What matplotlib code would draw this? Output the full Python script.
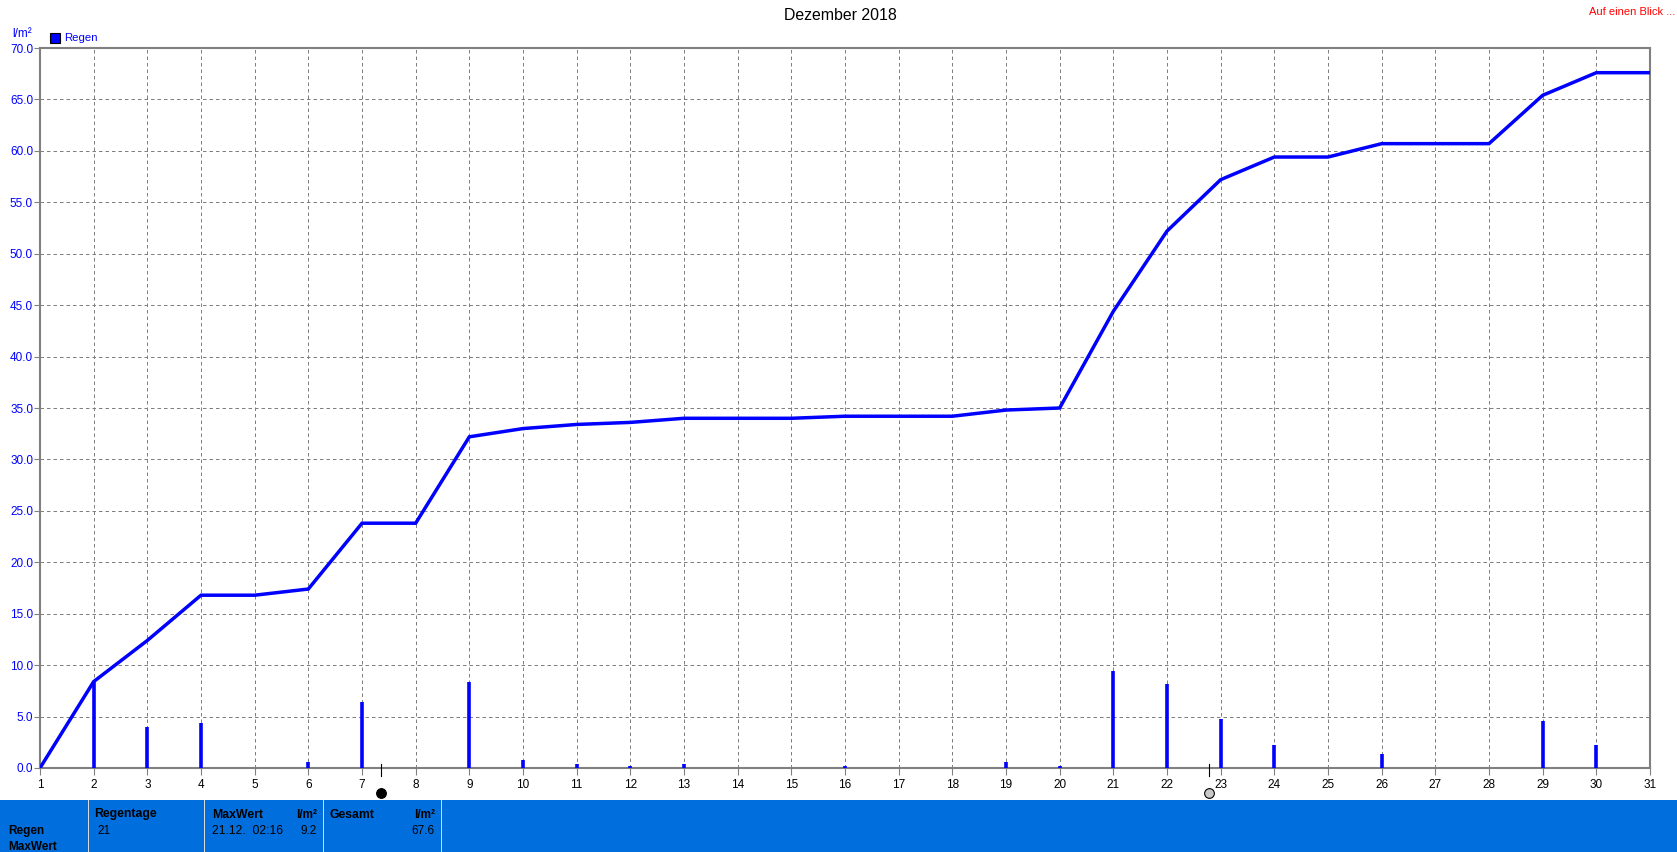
import matplotlib
matplotlib.use("Agg")
import matplotlib.pyplot as plt
from matplotlib.patches import Rectangle
from matplotlib.transforms import blended_transform_factory

plt.rcParams['font.family'] = ['Liberation Sans', 'DejaVu Sans']

days = list(range(1, 32))
cumulative = [0, 8.4, 12.4, 16.8, 16.8, 17.4, 23.8, 23.8, 32.2, 33.0, 33.4, 33.6, 34.0, 34.0, 34.0, 34.2,
              34.2, 34.2, 34.8, 35.0, 44.4, 52.2, 57.2, 59.4, 59.4, 60.7, 60.7, 60.7, 65.4, 67.6, 67.6]
daily = [0, 8.4, 4.0, 4.4, 0, 0.6, 6.4, 0, 8.4, 0.8, 0.4, 0.2, 0.4, 0, 0, 0.2,
         0, 0, 0.6, 0.2, 9.4, 8.2, 4.8, 2.2, 0, 1.4, 0, 0, 4.6, 2.2, 0]
y_ticks = [i * 5 for i in range(15)]
full_moon_day, new_moon_day = 7.35, 22.78
title = "Dezember 2018"

W, H = 1677, 852
BLUE = "#0000FF"
GREY = "#808080"
PANEL = "#006FDD"

fig = plt.figure(figsize=(W / 100, H / 100), dpi=100, facecolor="white")
ax = fig.add_axes([40 / W, 1 - 768 / H, (1650 - 40) / W, (768 - 48) / H])
ax.set_xlim(1, 31)
ax.set_ylim(0, 70)
ax.set_xticks(days)
ax.set_yticks(y_ticks)
ax.set_yticklabels([f"{v:.1f}" for v in y_ticks], color=BLUE, fontsize=8.5)
ax.set_xticklabels([str(d) for d in days], fontsize=8.5)
ax.tick_params(axis="x", length=5, width=0.8, color=GREY, pad=3)
ax.tick_params(axis="y", length=4, width=0.8, color=GREY, pad=1)
ax.grid(True, color=GREY, lw=0.72, linestyle=(0, (3.5, 3)))
ax.set_axisbelow(True)
for s in ax.spines.values():
    s.set_color(GREY)
    s.set_linewidth(1.5)

ax.vlines(days, 0, daily, color=BLUE, lw=2.6, zorder=3)
ax.plot(days, cumulative, color=BLUE, lw=2.5, zorder=4, solid_joinstyle="miter", clip_on=True)

# Moon phase markers below the axis
tr = blended_transform_factory(ax.transData, fig.transFigure)
for d, face in ((full_moon_day, "black"), (new_moon_day, "#c8c8c8")):
    ax.plot([d, d], [1 - 764 / H, 1 - 776 / H], color="black", lw=0.8, transform=tr, clip_on=False, zorder=6)
    ax.plot([d], [1 - 793 / H], marker="o", ms=7.0, mfc=face, mec="black", mew=0.8,
            transform=tr, clip_on=False, zorder=6)


def px(x, y, s, **kw):
    fig.text(x / W, 1 - y / H, s, **{"va": "center", "fontsize": 8.5, **kw})


px(840, 15, title, ha="center", fontsize=11.4)
px(1675, 12, "Auf einen Blick ...", ha="right", color="red", fontsize=8)
px(12, 34, "l/m²", color=BLUE, fontsize=8.5)
px(64, 38, "Regen", color=BLUE, fontsize=8.2)
fig.add_artist(Rectangle((50 / W, 1 - 43 / H), 10 / W, 10 / H, transform=fig.transFigure,
                         facecolor=BLUE, edgecolor="black", lw=0.8))

# Bottom panel
fig.add_artist(Rectangle((0, 0), 1, 52 / H, transform=fig.transFigure, facecolor=PANEL, edgecolor="none"))
for x in (88, 204, 323, 441):
    fig.add_artist(Rectangle((x / W, 0), 1.2 / W, 52 / H, transform=fig.transFigure,
                             facecolor="#d8d8d8", edgecolor="none"))
bold = {"fontweight": "bold"}
px(8, 831, "Regen", **bold)
px(8, 847, "MaxWert", **bold)
px(94, 814.5, "Regentage", fontsize=8.8, **bold)
px(97, 831, "21")
px(212, 814.5, "MaxWert", fontsize=8.8, **bold)
px(317, 814.5, "l/m²", ha="right", **bold)
px(212, 831, "21.12.  02:16", fontsize=8.7)
px(317, 831, "9.2", ha="right")
px(330, 814.5, "Gesamt", fontsize=8.8, **bold)
px(435, 814.5, "l/m²", ha="right", **bold)
px(435, 831, "67.6", ha="right")

fig.savefig("out.png", dpi=100, facecolor="white")
